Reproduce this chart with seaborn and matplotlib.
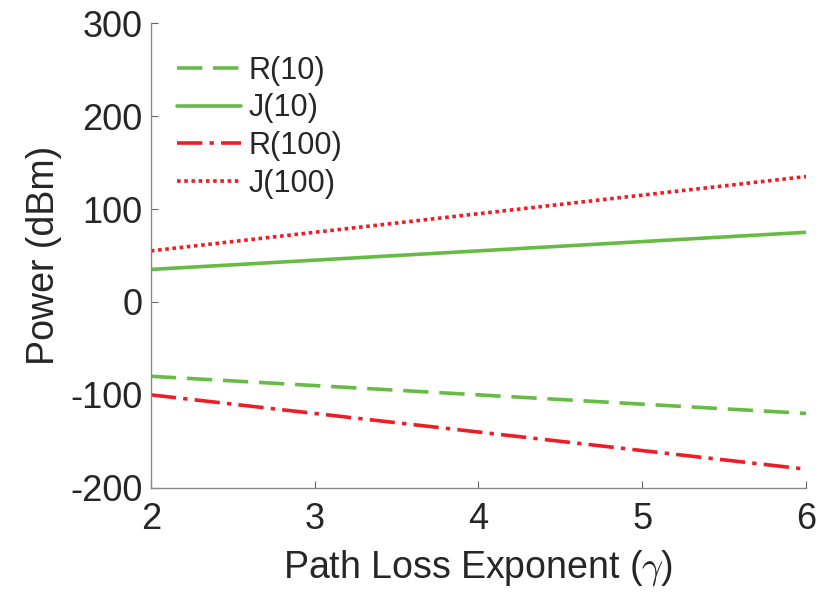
import numpy as np
import pandas as pd
import matplotlib
matplotlib.use('Agg')
import matplotlib.pyplot as plt
import seaborn as sns

gamma = [2, 3, 4, 5, 6]
r10 = [-80, -90, -100, -110, -120]
j10 = [35, 45, 55, 65, 75]
r100 = [-100, -120, -140, -160, -180]
j100 = [55, 75, 95, 115, 135]

sns.set_style('white')
plt.rcParams['font.family'] = ['Liberation Sans', 'DejaVu Sans']
plt.rcParams['mathtext.fontset'] = 'cm'
plt.rcParams['axes.unicode_minus'] = False
plt.rcParams['xtick.bottom'] = True
plt.rcParams['ytick.left'] = True

green = '#66bb44'
red = '#ee1c24'

fig = plt.figure(figsize=(8.2, 5.97), dpi=100)
ax = fig.add_axes([0.184, 0.183, 0.799, 0.778])

sns.lineplot(x=gamma, y=r10, ax=ax, color=green, lw=2.6, label='R(10)')
ax.lines[-1].set_dashes([7, 3])
sns.lineplot(x=gamma, y=j10, ax=ax, color=green, lw=2.6, label='J(10)')
sns.lineplot(x=gamma, y=r100, ax=ax, color=red, lw=2.6, label='R(100)')
ax.lines[-1].set_dashes([7, 2, 1.2, 2])
sns.lineplot(x=gamma, y=j100, ax=ax, color=red, lw=2.6, label='J(100)')
ax.lines[-1].set_dashes([1.0, 1.0])

ax.set_xlim(2, 6)
ax.set_ylim(-200, 300)
ax.set_xticks([2, 3, 4, 5, 6])
ax.set_yticks([-200, -100, 0, 100, 200, 300])
ax.tick_params(direction='in', length=5, width=0.8, colors='#666666',
               labelsize=26, labelcolor='#262626')
ax.tick_params(axis='x', pad=10)
ax.tick_params(axis='y', pad=6)
ax.set_xlabel(r'Path Loss Exponent ($\gamma$)', fontsize=27, color='#262626', labelpad=8)
ax.set_ylabel('Power (dBm)', fontsize=27, color='#262626', labelpad=6)

sns.despine(ax=ax)
for s in ['left', 'bottom']:
    ax.spines[s].set_color('#888888')
    ax.spines[s].set_linewidth(1.0)

leg = ax.legend(loc='upper left', frameon=False, fontsize=22, handlelength=2.1,
                handletextpad=0.25, labelspacing=0.25, borderaxespad=0, borderpad=0,
                bbox_to_anchor=(0.04, 0.93))

fig.savefig('out.png', dpi=100)
